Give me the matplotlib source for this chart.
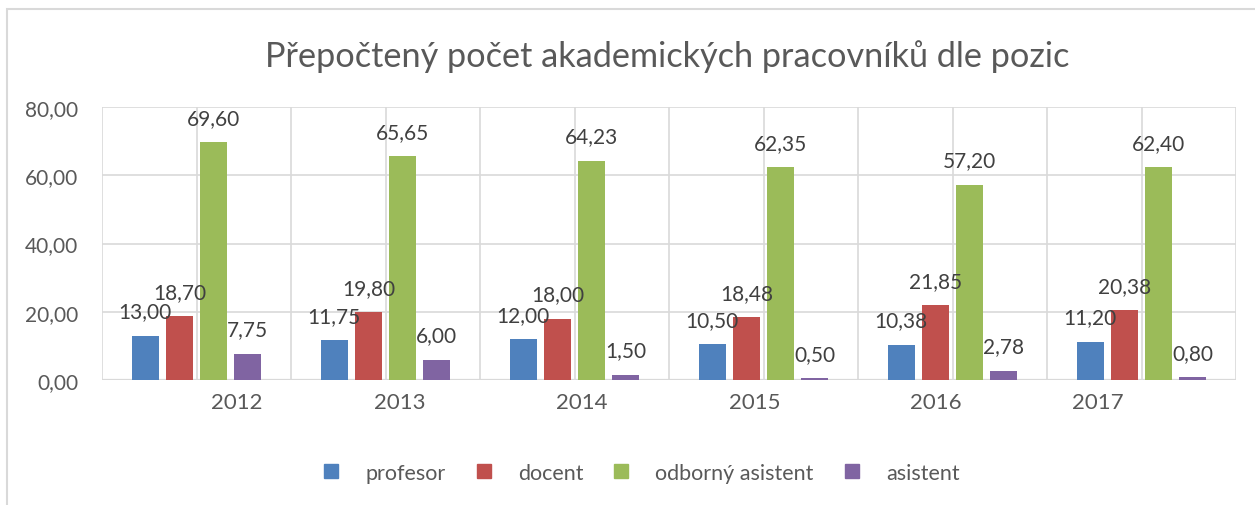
import numpy as np
import matplotlib
matplotlib.use('Agg')
import matplotlib.pyplot as plt
from matplotlib.patches import Rectangle
from matplotlib.lines import Line2D

plt.rcParams['font.family'] = ['Lato', 'DejaVu Sans']

# data
years = ['2012', '2013', '2014', '2015', '2016', '2017']
profesor = [13.00, 11.75, 12.00, 10.50, 10.38, 11.20]
docent = [18.70, 19.80, 18.00, 18.48, 21.85, 20.38]
odborny = [69.60, 65.65, 64.23, 62.35, 57.20, 62.40]
asistent = [7.75, 6.00, 1.50, 0.50, 2.78, 0.80]

series = [profesor, docent, odborny, asistent]
names = ['profesor', 'docent', 'odborný asistent', 'asistent']
colors = ['#4F81BD', '#C0504D', '#9BBB59', '#8064A2']

# Excel put the year labels off-centre, keep that look
label_shift = [0.214, 0.077, 0.040, -0.045, -0.087, -0.230]

W, H = 1255, 506
fig = plt.figure(figsize=(W / 100, H / 100), dpi=100)
ax = fig.add_axes([102 / W, 1 - 381 / H, (1236 - 102) / W, (381 - 108) / H])

x = np.arange(len(years))
step = 0.181
width = 0.143
for i, (vals, c) in enumerate(zip(series, colors)):
    xs = x + (i - 1.5) * step
    ax.bar(xs, vals, width=width, color=c, zorder=3)
    for xi, v in zip(xs, vals):
        ax.annotate(('%.2f' % v).replace('.', ','), (xi, v), xytext=(0, 17.5),
                    textcoords='offset points', ha='center', va='center',
                    fontsize=15, color='#404040', zorder=4)

ax.set_xlim(-0.5, len(years) - 0.5)
ax.set_ylim(0, 80)
ax.set_yticks([0, 20, 40, 60, 80])
ax.set_yticklabels(['0,00', '20,00', '40,00', '60,00', '80,00'])
ax.set_xticks(x + np.array(label_shift))
ax.set_xticklabels(years)
ax.tick_params(length=0, labelsize=15, colors='#595959')
ax.tick_params(axis='x', labelsize=16, pad=9)
ax.tick_params(axis='y', pad=17)

# grid: horizontal lines plus vertical ones at category edges and centres
for yv in [20, 40, 60, 80]:
    ax.axhline(yv, color='#D9D9D9', lw=1.2, zorder=1)
for xv in np.arange(-0.5, len(years), 0.5):
    ax.axvline(xv, color='#D9D9D9', lw=1.2, zorder=1)
ax.axhline(0, color='#D9D9D9', lw=1.6, zorder=2)
for s in ax.spines.values():
    s.set_visible(False)

fig.text(667 / W, 1 - 57 / H, 'Přepočtený počet akademických pracovníků dle pozic',
         ha='center', va='center', fontsize=24.7, color='#595959')

handles = [Line2D([], [], marker='s', ls='', markersize=10, color=c) for c in colors]
fig.legend(handles, names, loc='center', bbox_to_anchor=(640 / W, 1 - 474 / H),
           ncol=4, frameon=False, fontsize=15.5, labelcolor='#595959',
           handlelength=1.0, handletextpad=1.08, columnspacing=1.27)

# outer chart border
fig.add_artist(Rectangle((7 / W, -0.1), 1.2, 1 - 10 / H + 0.1, transform=fig.transFigure,
                         fill=False, ec='#D9D9D9', lw=1.5))

fig.savefig('out.png', dpi=100)
